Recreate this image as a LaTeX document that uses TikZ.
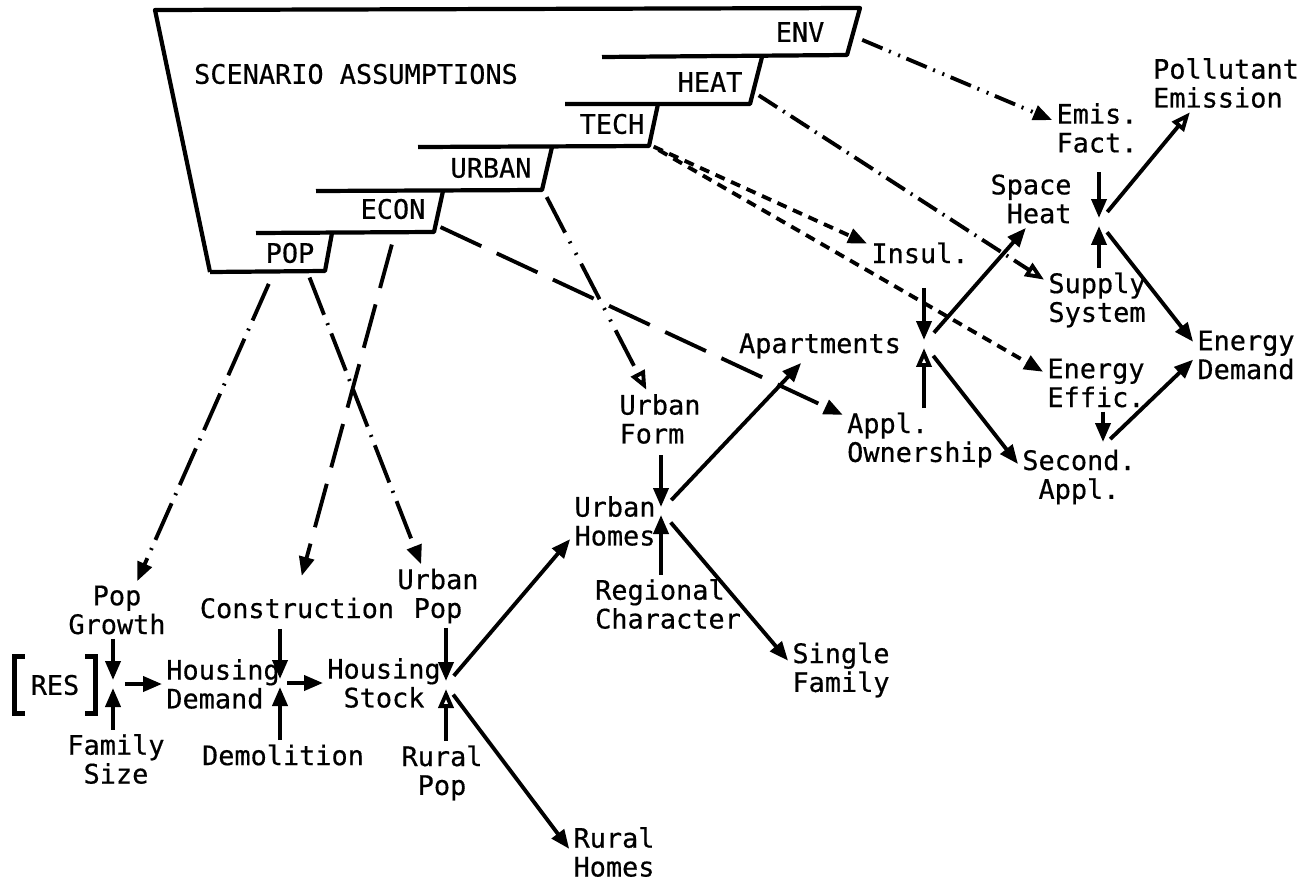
\documentclass[tikz,border=0pt]{standalone}
\usepackage{fontspec}
\newfontfamily\diafont[FakeBold=0.5]{DejaVu Sans Mono}
\usetikzlibrary{arrows.meta}

\begin{document}
\begin{tikzpicture}[x=0.02cm,y=-0.02cm,
  every node/.style={font=\diafont\fontsize{15.3}{16.4}\selectfont,inner sep=0.08cm},
  frame/.style={line width=2.4pt,line join=round},
  brk/.style={line width=2.8pt},
  arr/.style={line width=2.2pt,-{Triangle[length=0.38cm,width=0.3cm]}},
  oarr/.style={line width=2.2pt,-{Triangle[open,length=0.38cm,width=0.3cm]}},
  into/.style={shorten >=0.08cm},
  sdsh/.style={line width=2.2pt,dash pattern=on 0.2cm off 0.14cm},
  ldsh/.style={line width=2.2pt,dash pattern=on 0.9cm off 0.34cm},
  dshdot/.style={line width=2.2pt,dash pattern=on 0.8cm off 0.18cm on 0.04cm off 0.18cm},
  sdshdot/.style={line width=2.2pt,dash pattern=on 0.44cm off 0.14cm on 0.04cm off 0.14cm},
  dshdd/.style={line width=2.2pt,dash pattern=on 0.44cm off 0.14cm on 0.04cm off 0.16cm on 0.04cm off 0.14cm},
  ldshdd/.style={line width=2.2pt,dash pattern=on 0.8cm off 0.2cm on 0.04cm off 0.22cm on 0.04cm off 0.2cm}]
\useasboundingbox (0,0) rectangle (1314,885);
%scenario box, a staircase of tabs
\draw[frame] (210,272) -- (155,10) -- (860,8) -- (847,55) -- (602,57);
\draw[frame] (762,57) -- (750,104) -- (565,104);
\draw[frame] (658,104) -- (649,146) -- (418,147);
\draw[frame] (552,147) -- (542,190) -- (316,191);
\draw[frame] (443,191) -- (434,232) -- (256,233);
\draw[frame] (332,233) -- (325,271) -- (210,272);
\node (scen) at (356,74) {SCENARIO ASSUMPTIONS};
\node (env) at (800,32) {ENV};
\node (heat) at (710,82) {HEAT};
\node (tech) at (612,124) {TECH};
\node (urban) at (491,168) {URBAN};
\node (econ) at (393,209) {ECON};
\node (pop) at (290,253) {POP};
%where the scenario lines leave the box
\coordinate (envS) at (853,36);
\coordinate (heatS) at (752,91);
\coordinate (techS) at (650,145);
\coordinate (urbS) at (543,190);
\coordinate (econS) at (436,225);
\coordinate (econB) at (395,233);
\coordinate (popS1) at (274,272);
\coordinate (popS2) at (307,271);

%housing chain
\node[minimum width=1.6cm,minimum height=1.14cm] (res) at (55,685) {RES};
\draw[brk] ([xshift=0.2cm]res.north west) -- (res.north west) -- (res.south west) -- ++(10,0);
\draw[brk] ([xshift=-0.2cm]res.north east) -- (res.north east) -- (res.south east) -- ++(-10,0);
\node[align=center] (popgrowth) at (117,610) {Pop\\Growth};
\node[align=center] (famsize) at (116,759) {Family\\Size};
\node[align=left] (housdem) at (223,684) {Housing\\Demand};
\node (constr) at (297,608) {Construction};
\node (demol) at (283,755) {Demolition};
\node[align=center] (housstock) at (384,683) {Housing\\Stock};
\node[align=center] (urbpop) at (438,596) {Urban\\Pop};
\node[align=center] (rurpop) at (442,773) {Rural\\Pop};
\node[align=center] (rurhomes) at (614,852) {Rural\\Homes};
\node[align=center] (urbhomes) at (615,521) {Urban\\Homes};
\node[align=left] (urbform) at (660,419) {Urban\\Form};
\node[align=left] (regchar) at (668,604) {Regional\\Character};
\node (apart) at (820,346) {Apartments};
\node[align=left] (single) at (841,670) {Single\\Family};
%appliances and heating
\node[align=left] (applown) at (920,440) {Appl.\\Ownership};
\node (insul) at (920,253) {Insul.};
\node[align=right] (spaceheat) at (1031,199) {Space\\Heat};
\node[align=center] (emis) at (1097,128) {Emis.\\Fact.};
\node[align=center] (supply) at (1097,300) {Supply\\System};
\node[align=left] (pollut) at (1226,83) {Pollutant\\Emission};
\node[align=left] (energy) at (1246,355) {Energy\\Demand};
\node[align=left] (effic) at (1096,383) {Energy\\Effic.};
\node[align=center] (second) at (1079,477) {Second.\\Appl.};

\coordinate (jres) at (113,684);
\coordinate (jdem) at (280,683);
\coordinate (jstock) at (446,685);
\coordinate (jurb) at (661,511);
\coordinate (japp) at (924,344);
\coordinate (jheat) at (1099,222);
\coordinate (jsec) at (1103,446);

\draw[arr,into] (popgrowth.south -| jres) -- (jres);
\draw[arr,into] (famsize.north -| jres) -- (jres);
\draw[arr,shorten <=0.24cm] (jres) -- (housdem.west);
\draw[arr,into,shorten <=0.12cm] (constr.south -| jdem) -- (jdem);
\draw[arr,into] (demol.north -| jdem) -- (jdem);
\draw[arr,shorten <=0.14cm] (jdem) -- (housstock.west);
\draw[arr,into] (urbpop.south -| jstock) -- (jstock);
\draw[oarr,into] (rurpop.north -| jstock) -- (jstock);
\draw[arr,shorten <=0.24cm] (jstock) -- (urbhomes.202);
\draw[arr,shorten <=0.24cm] (jstock) -- (rurhomes.176);
\draw[arr,into,shorten <=0.14cm] (urbform.south -| jurb) -- (jurb);
\draw[arr,into] (regchar.north -| jurb) -- (jurb);
\draw[arr,shorten <=0.3cm] (jurb) -- (apart.222);
\draw[arr,shorten <=0.3cm] (jurb) -- (single.170);
\draw[arr,into,shorten <=0.4cm] (insul.south -| japp) -- (japp);
\draw[oarr,into] (applown.north -| japp) -- (japp);
\draw[arr,shorten <=0.3cm] (japp) -- (spaceheat.260);
\draw[arr,shorten <=0.3cm] (japp) -- (second.168);
\draw[arr,into,shorten <=0.3cm] (emis.south -| jheat) -- (jheat);
\draw[arr,into] (supply.north -| jheat) -- (jheat);
\draw[oarr,shorten <=0.26cm] (jheat) -- (pollut.219);
\draw[arr,shorten <=0.26cm] (jheat) -- (energy.166);
\draw[arr,into] (effic.south -| jsec) -- (jsec);
\draw[arr,shorten <=0.2cm] (jsec) -- (energy.185);

%scenario assumptions feeding the model
\draw[dshdd,arr,shorten <=0.2cm] (envS) -- (emis.170);
\draw[sdshdot,oarr,shorten <=0.16cm] (heatS) -- (supply.159);
\draw[sdsh,arr,shorten <=0.08cm] (techS) -- (insul.170);
\draw[sdsh,arr,shorten <=0.2cm] (techS) -- (effic.168);
\draw[ldshdd,oarr,shorten <=0.16cm] (urbS) -- (urbform.115);
\draw[ldsh,arr,shorten <=0.1cm] (econS) -- (applown.162);
\draw[ldsh,arr,shorten <=0.24cm,shorten >=0.36cm] (econB) -- (constr.north);
\draw[dshdot,arr,shorten <=0.26cm] (popS1) -- (popgrowth.55);
\draw[dshdot,arr,shorten <=0.14cm] (popS2) -- (urbpop.118);
\end{tikzpicture}
\end{document}
